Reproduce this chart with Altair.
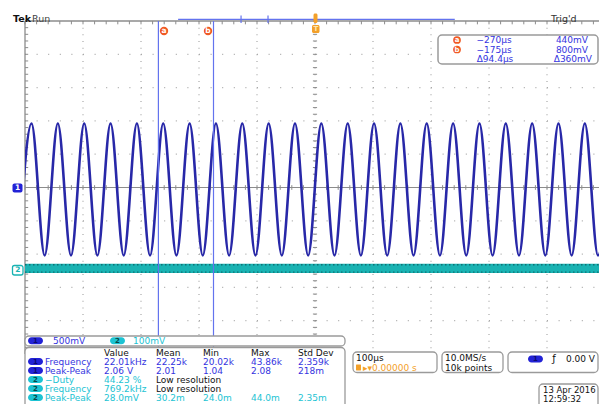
import altair as alt
import pandas as pd

# ---------------- values ----------------
# Channel 1 (sine, 500 mV/div): crest / trough times in microseconds
ch1_peak_times_us = [-488.8, -443.4, -397.9, -352.5, -307.1, -261.7, -216.2, -170.8,
                     -125.4, -79.9, -34.5, 10.9, 56.4, 101.8, 147.2, 192.6, 238.1,
                     283.5, 328.9, 374.4, 419.8, 465.2, 510.7]
ch1_trough_times_us = [-511.5, -466.1, -420.7, -375.2, -329.8, -284.4, -238.9, -193.5,
                       -148.1, -102.6, -57.2, -11.8, 33.6, 79.1, 124.5, 169.9, 215.4,
                       260.8, 306.2, 351.7, 397.1, 442.5, 487.9]
ch1_peak_v = 0.96
ch1_trough_v = -1.02
ch1_v_per_div = 0.5
# Channel 2 (flat noisy trace, 100 mV/div)
ch2_offset_div = -2.43
ch2_pkpk_mv = 28.0
ch2_mv_per_div = 100.0

# Cursors
cursor_names = ["a", "b"]
cursor_times_us = [-270.0, -175.0]
cursor_time_labels = ["\u2212270\u00b5s", "\u2212175\u00b5s"]
cursor_volt_labels = ["440mV", "800mV"]
cursor_delta_time = "\u039494.4\u00b5s"
cursor_delta_volt = "\u0394360mV"

# Record bar (µs)
record_bar_us = [-236.0, 241.0]
record_ticks_us = [-127.5, -81.0]

# Channel scale readouts
ch_scale_labels = ["500mV", "100mV"]

# Measurement table
meas_header = ["Value", "Mean", "Min", "Max", "Std Dev"]
meas_channels = [1, 1, 2, 2, 2]
meas_names = ["Frequency", "Peak-Peak", "\u2212Duty", "Frequency", "Peak-Peak"]
meas_values = [
    ["22.01kHz", "22.25k", "20.02k", "43.86k", "2.359k"],
    ["2.06 V", "2.01", "1.04", "2.08", "218m"],
    ["44.23 %", "Low resolution", "", "", ""],
    ["769.2kHz", "Low resolution", "", "", ""],
    ["28.0mV", "30.2m", "24.0m", "44.0m", "2.35m"],
]

horiz_labels = ["100\u00b5s", "\u25b8\u25be0.00000 s"]
acq_labels = ["10.0MS/s", "10k points"]
trig_level = "0.00 V"
date_labels = ["13 Apr 2016", "12:59:32"]

# ---------------- styling / layout ----------------
BLACK = "#111111"
GRID = "#a9a9a9"
AXIS = "#8c8c8c"
TRACE1 = "#2828a8"
CH1TXT = "#3434e0"
CH1FILL = "#2222d6"
CH2 = "#19b3b3"
CH2TXT = "#1cc3d3"
CURSOR = "#6373ee"
RED = "#f05a24"
AMBER = "#f3a02a"
PANEL = "#9a9a9a"
FONT = "DejaVu Sans"

# screen: t=0 at x=315 px, 0.58 px/us; 0 div at y=187.5 px, 33.3 px/div
T_RIGHT = (599 - 315) / 0.58
SX = alt.Scale(domain=[-500, T_RIGHT], nice=False, zero=False)
SY = alt.Scale(domain=[-5, 5], nice=False, zero=False)


def X(f):
    return alt.X(f"{f}:Q", scale=SX, axis=None)


def Y(f):
    return alt.Y(f"{f}:Q", scale=SY, axis=None)


def pt(px):
    return (px - 315.0) / 0.58


def pd_(py):
    return (187.5 - py) / 33.3


def vrules(ts, d1, d2, color, width=1.0, dash=None):
    df = pd.DataFrame({"t": ts, "d1": d1 if isinstance(d1, list) else [d1] * len(ts),
                       "d2": d2 if isinstance(d2, list) else [d2] * len(ts)})
    kw = dict(color=color, strokeWidth=width)
    if dash:
        kw["strokeDash"] = dash
    return alt.Chart(df).mark_rule(**kw).encode(x=X("t"), y=Y("d1"), y2=alt.Y2("d2:Q"))


def hrules(ds, t1, t2, color, width=1.0, dash=None):
    df = pd.DataFrame({"d": ds, "t1": t1 if isinstance(t1, list) else [t1] * len(ds),
                       "t2": t2 if isinstance(t2, list) else [t2] * len(ds)})
    kw = dict(color=color, strokeWidth=width)
    if dash:
        kw["strokeDash"] = dash
    return alt.Chart(df).mark_rule(**kw).encode(y=Y("d"), x=X("t1"), x2=alt.X2("t2:Q"))


def boxes(items, radius=3, stroke=PANEL, width=1.0):
    # items: (x1, y1, x2, y2, fill) in screen pixels
    df = pd.DataFrame([{"t1": pt(a), "t2": pt(c), "d1": pd_(b), "d2": pd_(d), "fill": f}
                       for a, b, c, d, f in items])
    kw = dict(cornerRadius=radius, strokeWidth=width)
    if stroke:
        kw["stroke"] = stroke
    return alt.Chart(df).mark_rect(**kw).encode(
        x=X("t1"), x2=alt.X2("t2:Q"), y=Y("d1"), y2=alt.Y2("d2:Q"),
        fill=alt.Fill("fill:N", scale=None))


def texts(items, size=9, align="left", weight="normal", font=FONT):
    df = pd.DataFrame([{"t": pt(a), "d": pd_(b), "label": s, "color": c} for a, b, s, c in items])
    return alt.Chart(df).mark_text(align=align, baseline="middle", fontSize=size,
                                   fontWeight=weight, font=font).encode(
        x=X("t"), y=Y("d"), text="label:N", color=alt.Color("color:N", scale=None))


layers = []

# ---- graticule ----
major_t = [-400, -300, -200, -100, 100, 200, 300, 400]
major_d = [-4, -3, -2, -1, 1, 2, 3, 4]
layers.append(vrules(major_t, 5, -5, GRID, 1.2, [1, 5.66]))
layers.append(hrules(major_d, -500, T_RIGHT, GRID, 1.2, [1, 10.6]))
layers.append(vrules([0], 5, -5, GRID, 1.2, [1, 5.66]))
layers.append(hrules([0], -500, T_RIGHT, AXIS, 1.0))
minor_t = [-500 + 20 * i for i in range(50)]
minor_d = [round(-5 + 0.2 * i, 2) for i in range(51)]
layers.append(vrules(minor_t, 0.07, -0.07, AXIS, 1.0))
layers.append(hrules(minor_d, -3.6, 3.6, AXIS, 1.0))
layers.append(vrules(minor_t, 5, 4.9, AXIS, 1.0))
layers.append(hrules(minor_d, -500, -494.5, AXIS, 1.0))
layers.append(hrules([5], -500, T_RIGHT, AXIS, 1.3))
layers.append(vrules([-500], 5, -5, AXIS, 1.3))

# ---- channel 2 band ----
half = ch2_pkpk_mv / 2 / ch2_mv_per_div
band = pd.DataFrame({"t1": [-500], "t2": [T_RIGHT], "d1": [ch2_offset_div - half],
                     "d2": [ch2_offset_div + half]})
layers.append(alt.Chart(band).mark_rect(color=CH2).encode(
    x=X("t1"), x2=alt.X2("t2:Q"), y=Y("d1"), y2=alt.Y2("d2:Q")))
layers.append(hrules([ch2_offset_div - half + 0.03, ch2_offset_div + half - 0.03], -500, T_RIGHT,
                     "#0e6f73", 1.3, [1.5, 2.5]))

# ---- channel 1 trace ----
ch1 = pd.DataFrame({
    "t": ch1_peak_times_us + ch1_trough_times_us,
    "v": [ch1_peak_v] * len(ch1_peak_times_us) + [ch1_trough_v] * len(ch1_trough_times_us),
}).sort_values("t")
ch1["d"] = ch1["v"] / ch1_v_per_div
layers.append(alt.Chart(ch1).mark_line(color=TRACE1, strokeWidth=2.6, interpolate="monotone",
                                       clip=True).encode(x=X("t"), y=Y("d")))

# ---- cursors ----
layers.append(vrules(cursor_times_us, 5, -5, CURSOR, 1.2))
cur_lab = pd.DataFrame({"t": [pt(164), pt(208)], "d": [pd_(31), pd_(31)], "n": cursor_names})
layers.append(alt.Chart(cur_lab).mark_point(shape="circle", filled=True, size=70, color=RED,
                                            opacity=1).encode(x=X("t"), y=Y("d")))
layers.append(alt.Chart(cur_lab).mark_text(color="white", fontSize=7.5, fontWeight="bold",
                                           font=FONT, baseline="middle").encode(
    x=X("t"), y=Y("d"), text="n:N"))

# ---- trigger markers and record bar ----
layers.append(hrules([pd_(19.3)], record_bar_us[0], record_bar_us[1], CURSOR, 1.2))
layers.append(vrules(record_ticks_us, pd_(15.5), pd_(23), CURSOR, 1.2))
layers.append(boxes([(312, 25, 319.5, 33, AMBER), (313.5, 13.5, 317.5, 23, AMBER)], radius=1.5, stroke=None))
layers.append(texts([(315.8, 29.3, "T", "#fde7b0")], size=7, align="center", weight="bold"))

# ---- channel ground markers ----
layers.append(boxes([(12.5, 183.5, 22.5, 192.5, CH1FILL)], radius=2, stroke=None))
layers.append(texts([(17.5, 188, "1", "white")], size=7.5, align="center", weight="bold"))
layers.append(boxes([(12.5, 265.5, 23, 275, "white")], radius=2, stroke=CH2, width=1.3))
layers.append(texts([(17.8, 270.3, "2", CH2)], size=7.5, align="center", weight="bold"))

# ---- header text ----
layers.append(texts([(13, 18.5, "Tek", BLACK)], size=9.5, weight="bold"))
layers.append(texts([(32, 18.5, "Run", "#444444"), (551, 18.5, "Trig'd", "#333333")], size=9.5))

# ---- cursor readout ----
layers.append(boxes([(438, 35, 598, 64, "white")], radius=4, stroke=PANEL, width=1.5))
ro = pd.DataFrame({"t": [pt(457), pt(457)], "d": [pd_(40), pd_(49.5)], "n": cursor_names})
layers.append(alt.Chart(ro).mark_point(shape="circle", filled=True, size=60, color=RED,
                                       opacity=1).encode(x=X("t"), y=Y("d")))
layers.append(alt.Chart(ro).mark_text(color="white", fontSize=7, fontWeight="bold", font=FONT,
                                      baseline="middle").encode(x=X("t"), y=Y("d"), text="n:N"))
layers.append(texts([(494, 40, cursor_time_labels[0], CH1TXT), (494, 49.5, cursor_time_labels[1], CH1TXT),
                     (495, 59, cursor_delta_time, CH1TXT)], align="center"))
layers.append(texts([(588, 40, cursor_volt_labels[0], CH1TXT), (588, 49.5, cursor_volt_labels[1], CH1TXT),
                     (592, 59, cursor_delta_volt, CH1TXT)], align="right"))

# ---- bottom panels ----
layers.append(boxes([(25, 336, 345, 346, "white"), (25, 347.5, 345, 410, "white"),
                     (353, 352, 437, 372.5, "white"), (442, 352, 503, 372.5, "white"),
                     (508, 352, 598, 372.5, "white"), (539, 384, 598, 410, "white")],
                    radius=4, stroke=PANEL, width=1.3))
row_y = [361.5, 370.5, 379.5, 388.5, 397.5]
ovals = [(28, 337.3, 43, 344.3, CH1FILL), (110, 337.3, 125, 344.3, CH2TXT),
         (528, 355.5, 543, 362.5, CH1FILL)]
for ch, y in zip(meas_channels, row_y):
    ovals.append((28, y - 3.6, 43, y + 3.6, CH1FILL if ch == 1 else CH2TXT))
layers.append(boxes(ovals, radius=3.6, stroke=None))
oval_txt = [(35.5, 340.8, "1", "#0b0b70"), (117.5, 340.8, "2", "#064848"), (535.5, 359, "1", "#0b0b70")]
for ch, y in zip(meas_channels, row_y):
    oval_txt.append((35.5, y + 0.3, str(ch), "#0b0b70" if ch == 1 else "#064848"))
layers.append(texts(oval_txt, size=7, align="center", weight="bold"))

left_items = [(53, 341, ch_scale_labels[0], CH1TXT), (133, 341, ch_scale_labels[1], CH2TXT)]
col_x = [104, 156, 203, 251, 298]
for cx, h in zip(col_x, meas_header):
    left_items.append((cx, 352.5, h, BLACK))
for ch, y, name, vals in zip(meas_channels, row_y, meas_names, meas_values):
    col = CH1TXT if ch == 1 else CH2TXT
    left_items.append((45, y, name, col))
    for cx, v in zip(col_x, vals):
        if v:
            left_items.append((cx, y, v, BLACK if v == "Low resolution" else col))
left_items += [(356, 357.5, horiz_labels[0], BLACK), (363, 367.5, horiz_labels[1], AMBER),
               (445, 357.5, acq_labels[0], BLACK), (445, 367.5, acq_labels[1], BLACK)]
layers.append(texts(left_items))
layers.append(texts([(543, 390, date_labels[0], BLACK), (543, 398.5, date_labels[1], BLACK)], size=8.5))
layers.append(boxes([(356, 364.5, 361, 370.5, AMBER)], radius=0.5, stroke=None))
layers.append(texts([(595, 359, trig_level, BLACK)], align="right"))
layers.append(texts([(554, 359, "\u0192", BLACK)], size=10, align="center"))

chart = alt.layer(*layers).properties(
    width=574, height=333,
    autosize=alt.AutoSizeParams(type="none"),
    padding={"left": 17, "top": 13, "right": 0, "bottom": 50},
    background="white",
).configure_view(stroke=None)

chart.save("out.html", embed_options={"renderer": "svg", "actions": False})
